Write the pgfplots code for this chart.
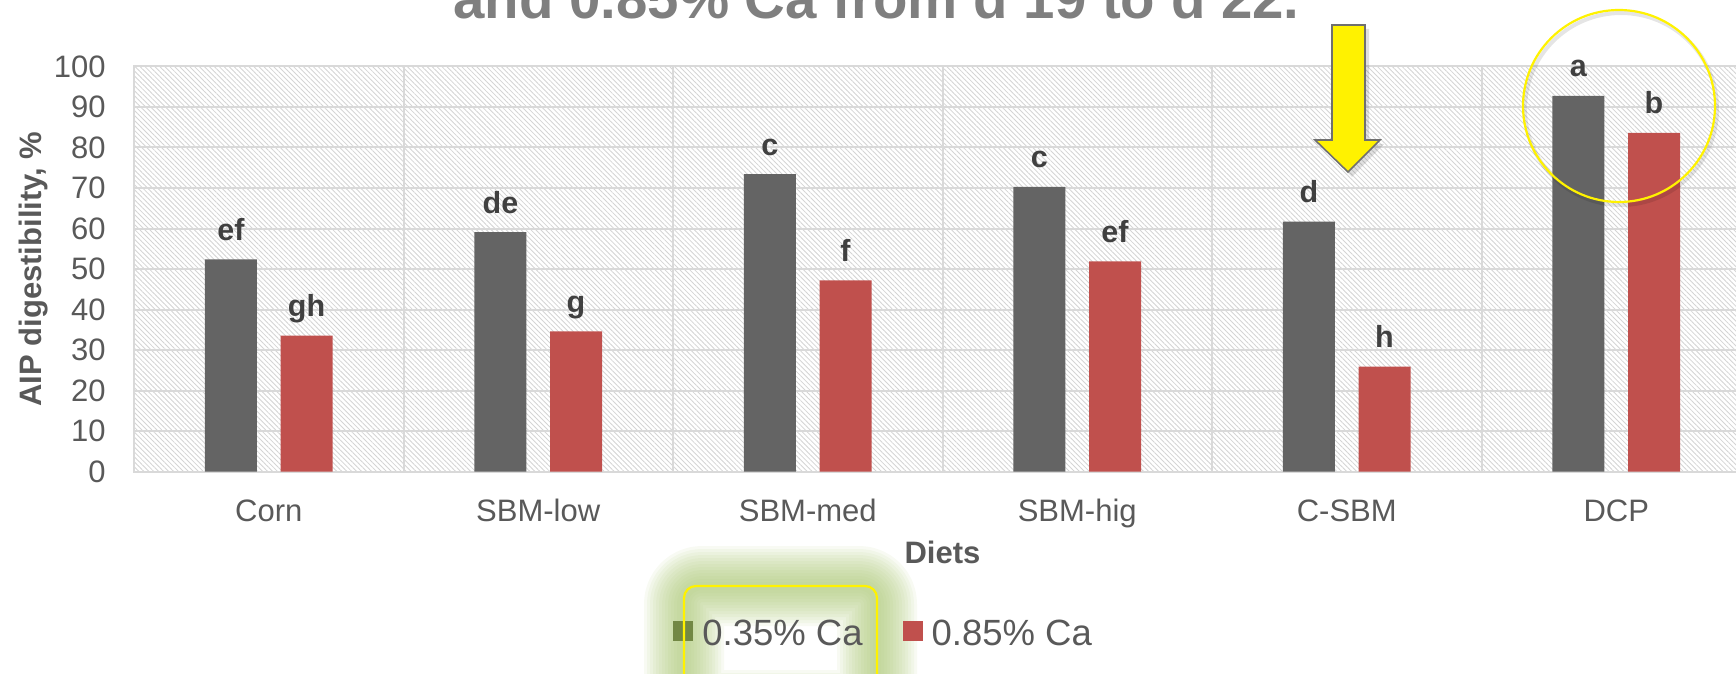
\documentclass[border=0pt]{standalone}
\usepackage{pgfplots}
\pgfplotsset{compat=1.18}
\usepackage{fontspec}
\setmainfont{Liberation Sans}
\usetikzlibrary{patterns.meta}
\definecolor{barGrey}{HTML}{646464}
\definecolor{barRed}{HTML}{C0504D}
\definecolor{gridc}{HTML}{D9D9D9}
\definecolor{txt}{HTML}{595959}
\definecolor{lab}{HTML}{404040}
\definecolor{hatch}{HTML}{D4D4D4}
\definecolor{glow}{HTML}{A9C672}
\definecolor{olivesq}{HTML}{728844}
\definecolor{titlec}{HTML}{7F7F7F}
\definecolor{arrowedge}{HTML}{6F6F6F}

\begin{document}
\begin{tikzpicture}
% soft glow behind the first legend entry
\begin{scope}[x=0.5pt,y=-0.5pt]
  \foreach \w in {40pt,37pt,34pt,31pt,28pt,25pt,22pt,19pt,16pt,13pt,10pt,7pt,4pt}{
    \draw[glow, line width=\w, opacity=0.085, rounded corners=9pt, line join=round] (684,586) rectangle (877,710);
  }
\end{scope}

\begin{axis}[
  at={(67pt,-235.85pt)}, anchor=south west,
  scale only axis, width=808.5pt, height=202.65pt,
  ybar, bar width=26pt,
  xmin=-0.5, xmax=5.5, ymin=0, ymax=100,
  ytick={0,10,...,100},
  xtick={0,...,5},
  xticklabels={Corn,SBM-low,SBM-med,SBM-hig,C-SBM,DCP},
  minor xtick={0.5,1.5,2.5,3.5,4.5},
  xminorgrids, ymajorgrids,
  major tick length=0pt, minor tick length=0pt,
  grid style={gridc, line width=1pt},
  minor grid style={gridc, line width=1pt},
  axis line style={gridc, line width=1pt},
  axis background/.style={pattern={Lines[angle=-45,distance=1.75pt,line width=0.42pt]}, pattern color=hatch},
  tick label style={text=txt, font=\fontsize{15.5}{18}\selectfont},
  /pgf/number format/assume math mode=true,
  yticklabel style={anchor=east, inner sep=0pt, xshift=-14pt},
  xticklabel style={anchor=base, inner sep=0pt, yshift=-25pt},
  xlabel={Diets},
  xlabel style={at={(axis description cs:0.5,0)}, anchor=base, inner sep=0pt, yshift=-45.9pt, font=\bfseries\fontsize{15.5}{18}\selectfont, text=txt},
  ylabel={AIP digestibility, \%},
  ylabel style={at={([xshift=-50pt]axis description cs:0,0.5)}, anchor=center, inner sep=0pt, font=\bfseries\fontsize{15.5}{18}\selectfont, text=txt},
  legend style={at={(axis description cs:0.3333,-0.4004)}, anchor=west, draw=none, fill=none, inner sep=0pt, legend columns=2,
    font=\fontsize{18.25}{21}\selectfont, text=txt, nodes={inner sep=0pt},
    /tikz/every odd column/.append style={column sep=4.5pt},
    /tikz/every even column/.append style={column sep=20pt}},
  nodes near coords, point meta=explicit symbolic,
  every node near coord/.append style={anchor=base, inner sep=0pt, yshift=9.5pt, font=\bfseries\fontsize{15.25}{18}\selectfont, text=lab},
]
\addplot[bar shift=-18.9pt, fill=barGrey, draw=none,
  legend image code/.code={\fill[olivesq] (0pt,-3.5pt) rectangle (10pt,6.5pt);}]
  coordinates {(0,52.4)[ef] (1,59.1)[de] (2,73.4)[c] (3,70.3)[c] (4,61.7)[d] (5,92.7)[a]};
\addplot[bar shift=18.9pt, fill=barRed, draw=none,
  legend image code/.code={\fill[barRed] (0pt,-3.5pt) rectangle (10pt,6.5pt);}]
  coordinates {(0,33.6)[gh] (1,34.6)[g] (2,47.2)[f] (3,51.9)[ef] (4,25.9)[h] (5,83.6)[b]};
\legend{0.35\% Ca, 0.85\% Ca}
\end{axis}

\begin{scope}[x=0.5pt,y=-0.5pt]
  % title (cut off at the top, as in the reference)
  \node[anchor=base, inner sep=0pt, font=\bfseries\fontsize{28.2}{30}\selectfont, text=titlec] at (876.5,19) {and 0.85\% Ca from d 19 to d 22.};
  % yellow frame round the legend entry
  \draw[yellow, line width=1.1pt, rounded corners=6pt] (684,586) rectangle (877,710);
  % arrow shadow and arrow
  \fill[black, opacity=0.12] (1335,29) -- (1369,29) -- (1369,144) -- (1384,144) -- (1352,177) -- (1319,144) -- (1335,144) -- cycle;
  \filldraw[fill=yellow, draw=arrowedge, line width=0.8pt, line join=miter]
    (1332,25) -- (1365,25) -- (1365,140) -- (1380,140) -- (1348,172) -- (1315,140) -- (1332,140) -- cycle;
  % circle shadow and circle
  \draw[black, opacity=0.10, line width=2pt] (1621,109) circle [radius=96];
  \draw[yellow, line width=1.1pt] (1619,106) circle [radius=96];
  % page = picture
  \pgfresetboundingbox
  \path[use as bounding box] (0,0) rectangle (1736,674);
\end{scope}
\end{tikzpicture}
\end{document}
